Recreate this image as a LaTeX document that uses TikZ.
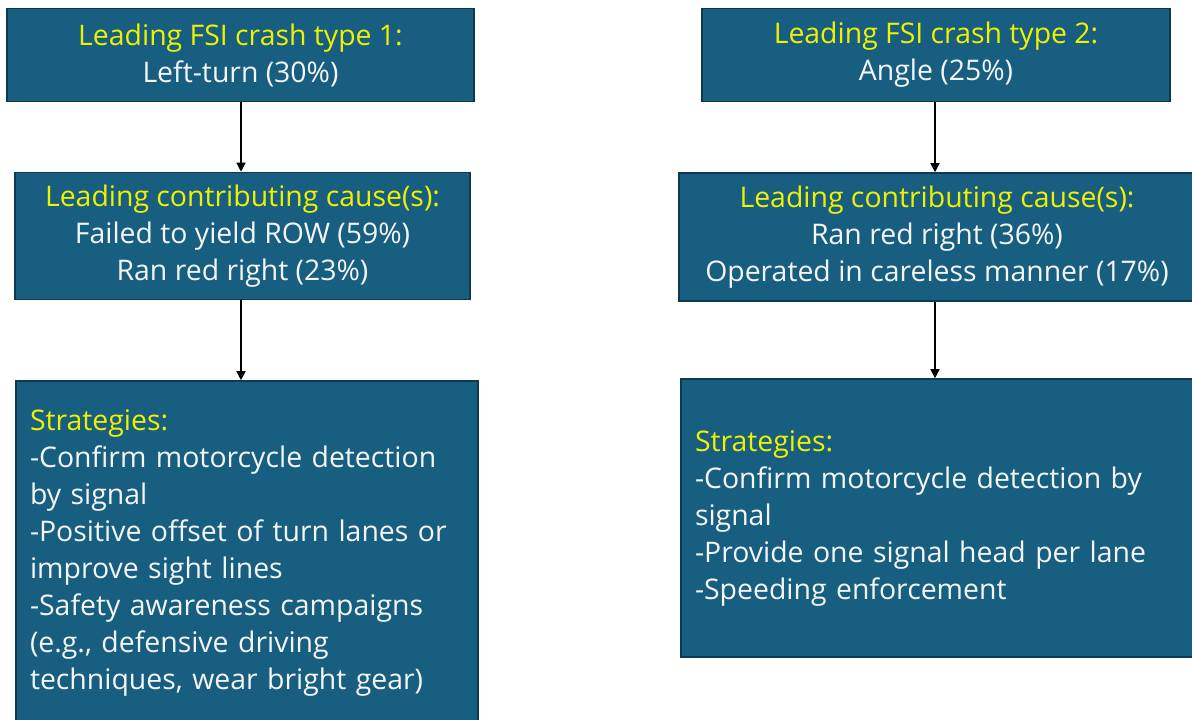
\documentclass[tikz,border=0pt]{standalone}
\usepackage{fontspec}
\setmainfont{Open Sans}
\usetikzlibrary{arrows.meta}
\definecolor{boxfill}{HTML}{175E81}
\definecolor{boxline}{HTML}{0E3A50}
\definecolor{headtext}{HTML}{EEF200}
\definecolor{bodytext}{HTML}{F4F6F6}
\tikzset{
  flowbox/.style={draw=boxline, line width=0.8pt, fill=boxfill, inner sep=0pt,
    font=\fontsize{14.2pt}{18.5pt}\selectfont, text=bodytext},
  flowarrow/.style={draw=black, line width=0.7pt, -{Triangle[length=4.5pt,width=4.5pt]}},
}
\newcommand{\hd}[1]{\textcolor{headtext}{#1}}
\begin{document}
\begin{tikzpicture}[x=0.5pt,y=-0.5pt]
\useasboundingbox (0,0) rectangle (1192,719);
\clip (0,0) rectangle (1192,719);
\fill[white] (0,0) rectangle (1192,719);

% left column
\node[flowbox, minimum width=233.5pt, minimum height=46.5pt, align=center] (t1) at (240.5,55)
  {\hd{Leading FSI crash type 1:}\\Left-turn (30\%)};
\node[flowbox, minimum width=227.5pt, minimum height=63.5pt, align=center] (c1) at (242.5,236)
  {\hd{Leading contributing cause(s):}\\Failed to yield ROW (59\%)\\Ran red right (23\%)};
\node[flowbox, minimum width=231pt, minimum height=172pt, text width=217pt, align=left] (s1) at (247,553)
  {\hd{Strategies:}\\-Confirm motorcycle detection\\by signal\\-Positive offset of turn lanes or\\improve sight lines\\-Safety awareness campaigns\\(e.g., defensive driving\\techniques, wear bright gear)};

% right column
\node[flowbox, minimum width=234pt, minimum height=46.5pt, align=center] (t2) at (936,55)
  {\hd{Leading FSI crash type 2:}\\Angle (25\%)};
\node[flowbox, minimum width=258pt, minimum height=64pt, align=center] (c2) at (937,237)
  {\hd{Leading contributing cause(s):}\\Ran red right (36\%)\\Operated in careless manner (17\%)};
\node[flowbox, minimum width=260pt, minimum height=139pt, text width=246pt, align=left] (s2) at (941,518)
  {\hd{Strategies:}\\-Confirm motorcycle detection by\\signal\\-Provide one signal head per lane\\-Speeding enforcement};

% connectors
\draw[flowarrow] (t1.south -| 241,0) -- (c1.north -| 241,0);
\draw[flowarrow] (c1.south -| 241,0) -- (s1.north -| 241,0);
\draw[flowarrow] (t2.south -| 935,0) -- (c2.north -| 935,0);
\draw[flowarrow] (c2.south -| 935,0) -- (s2.north -| 935,0);
\end{tikzpicture}
\end{document}
